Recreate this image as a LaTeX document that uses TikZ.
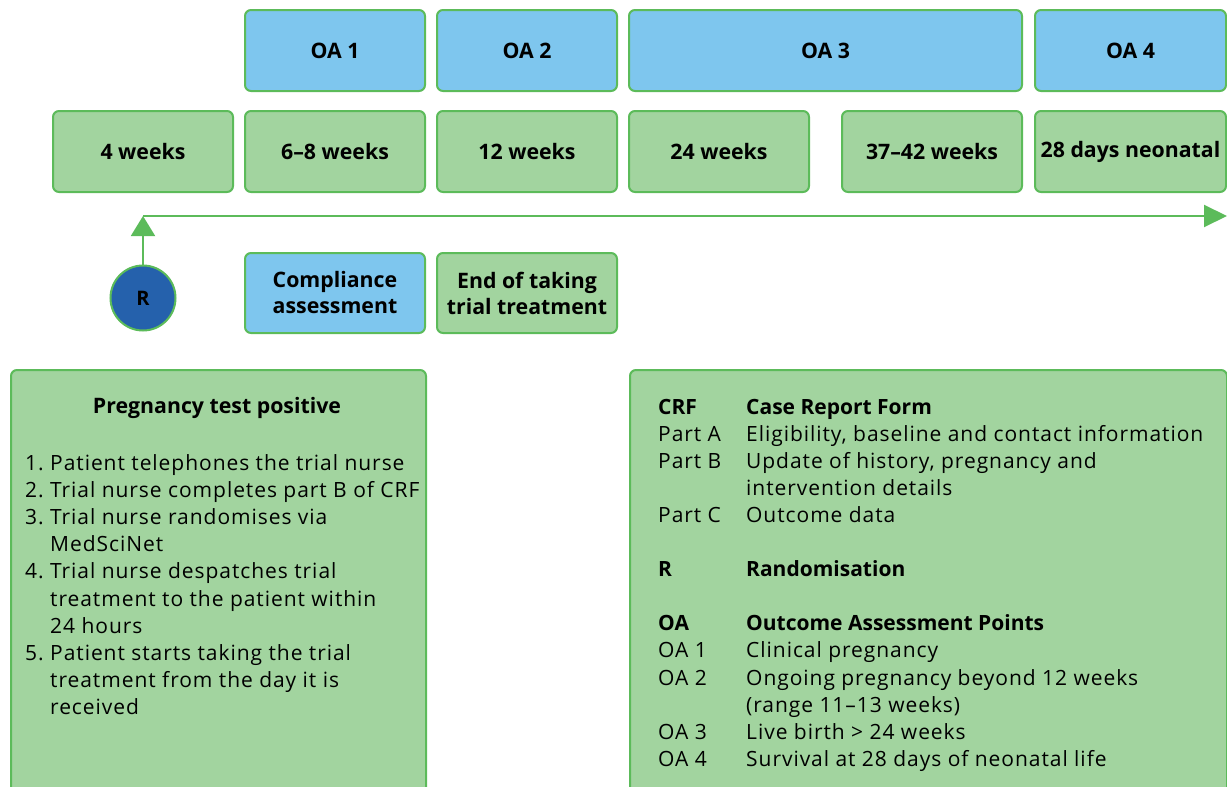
\documentclass[tikz,border=0pt]{standalone}
\usepackage{fontspec}
\setmainfont{Open Sans}[UprightFeatures={LetterSpace=4.5}]
\usetikzlibrary{arrows.meta}
\definecolor{gfill}{HTML}{A2D49F}
\definecolor{gline}{HTML}{5CBB5A}
\definecolor{bfill}{HTML}{7EC6EE}
\definecolor{rfill}{HTML}{2561AC}
\begin{document}
\begin{tikzpicture}[x=1pt,y=-1pt,
  box/.style={draw=gline, line width=2pt, rounded corners=6pt, minimum height=81pt, inner sep=0pt,
    font=\fontsize{21.3}{26}\selectfont\bfseries, align=center},
  gbox/.style={box, fill=gfill},
  bbox/.style={box, fill=bfill},
  bigbox/.style={draw=gline, line width=2pt, rounded corners=6pt, fill=gfill, inner sep=0pt, anchor=north west},
  txt/.style={inner sep=0pt, font=\fontsize{21}{27.2}\selectfont, anchor=base west},
  conn/.style={draw=gline, line width=2pt},
]
\useasboundingbox (0,0) rectangle (1227,787);
\clip (0,0) rectangle (1227,787);
% top row
\node[bbox, minimum width=180pt] (oa1) at (335,50.5) {OA 1};
\node[bbox, minimum width=180pt] (oa2) at (527,50.5) {OA 2};
\node[bbox, minimum width=393pt] (oa3) at (825.5,50.5) {OA 3};
\node[bbox, minimum width=191pt] (oa4) at (1130.5,50.5) {OA 4};
% second row
\node[gbox, minimum width=180pt] (w4) at (143,151.5) {4 weeks};
\node[gbox, minimum width=180pt] (w68) at (335,151.5) {6--8 weeks};
\node[gbox, minimum width=180pt] (w12) at (527,151.5) {12 weeks};
\node[gbox, minimum width=180pt] (w24) at (719,151.5) {24 weeks};
\node[gbox, minimum width=180pt] (w37) at (932,151.5) {37--42 weeks};
\node[gbox, minimum width=191pt] (d28) at (1130.5,151.5) {28 days neonatal};
% timeline
\node[circle, draw=gline, line width=2pt, fill=rfill, minimum size=65pt, inner sep=0pt,
  font=\fontsize{20}{22}\selectfont\bfseries] (R) at (143,298) {R};
\coordinate (corner) at (143,216);
\coordinate (tend) at (1227,216);
\draw[conn, -{Triangle[width=24pt,length=20pt]}] (R.north) -- (corner);
\draw[conn, -{Triangle[width=22pt,length=23pt]}] (corner) -- (tend);
% compliance row
\node[bbox, minimum width=180pt, minimum height=80pt] (comp) at (335,293) {Compliance\\assessment};
\node[gbox, minimum width=180pt, minimum height=80pt] (endt) at (527,293) {End of taking\\trial treatment};
% left big box
\node[bigbox, minimum width=415pt, minimum height=440pt] (left) at (10,369) {};
\node[inner sep=0pt, font=\fontsize{21.3}{26}\selectfont\bfseries] (ptitle) at (217,408) {Pregnancy test positive};
\node[txt] (plist) at (25,470) {\begin{tabular}[t]{@{}p{25pt}@{}l@{}}
1. & Patient telephones the trial nurse\\
2. & Trial nurse completes part B of CRF\\
3. & Trial nurse randomises via\\
   & MedSciNet\\
4. & Trial nurse despatches trial\\
   & treatment to the patient within\\
   & 24 hours\\
5. & Patient starts taking the trial\\
   & treatment from the day it is\\
   & received
\end{tabular}};
% right big box
\node[bigbox, minimum width=597pt, minimum height=440pt] (right) at (629,369) {};
\node[txt, font=\fontsize{21}{27.1}\selectfont] (legend) at (658,414) {\begin{tabular}[t]{@{}p{88pt}@{}l@{}}
\textbf{CRF} & \textbf{Case Report Form}\\
Part A & Eligibility, baseline and contact information\\
Part B & Update of history, pregnancy and\\
       & intervention details\\
Part C & Outcome data\\
 & \\
\textbf{R} & \textbf{Randomisation}\\
 & \\
\textbf{OA} & \textbf{Outcome Assessment Points}\\
OA 1 & Clinical pregnancy\\
OA 2 & Ongoing pregnancy beyond 12 weeks\\
     & (range 11--13 weeks)\\
OA 3 & Live birth > 24 weeks\\
OA 4 & Survival at 28 days of neonatal life
\end{tabular}};
\end{tikzpicture}
\end{document}
